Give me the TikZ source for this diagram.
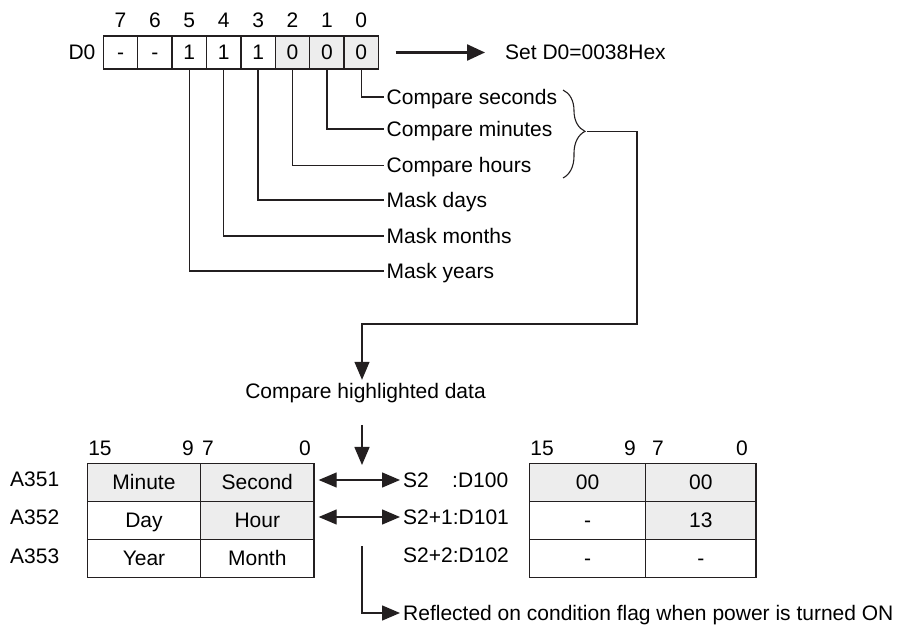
\documentclass[tikz,border=0pt]{standalone}
\usepackage{fontspec}
\setmainfont{Liberation Sans}
\usetikzlibrary{arrows.meta,decorations.pathreplacing}
\definecolor{ink}{HTML}{231F20}
\definecolor{shade}{HTML}{EDEDED}
\begin{document}
\begin{tikzpicture}[x=1pt,y=-1pt,
  every node/.style={font=\fontsize{21}{25}\selectfont, text=black, text height=15pt, text depth=0pt},
  line/.style={draw=ink, line width=1.4pt},
  arr/.style={line, -{Triangle[length=18pt,width=15pt]}},
  dbl/.style={line, {Triangle[length=18pt,width=15pt]}-{Triangle[length=18pt,width=15pt]}},
  regcell/.style={draw=ink, line width=1.4pt, minimum width=34.4pt, minimum height=33pt, inner sep=0pt},
  hl/.style={fill=shade},
  tcell/.style={draw=ink, line width=1.4pt, minimum height=38pt, inner sep=0pt},
  lbl/.style={anchor=west, inner xsep=3pt, inner ysep=0pt},
  plain/.style={inner sep=0pt},
]
\useasboundingbox (0,0) rectangle (906,628);

% ---------- register D0 ----------
\node[plain] (d0) at (82,52.5) {D0};
\node[regcell] (c7) at (120.5,52.5) {-};
\node[regcell] (c6) at (154.9,52.5) {-};
\node[regcell] (c5) at (189.3,52.5) {1};
\node[regcell] (c4) at (223.7,52.5) {1};
\node[regcell] (c3) at (258.1,52.5) {1};
\node[regcell,hl] (c2) at (292.5,52.5) {0};
\node[regcell,hl] (c1) at (326.9,52.5) {0};
\node[regcell,hl] (c0) at (361.3,52.5) {0};

\foreach \i in {0,...,7}{
  \node[plain] (n\i) at (c\i |- 0,20) {\i};
}

% Set arrow
\node[anchor=west, inner sep=0pt] (set) at (505,52.5) {Set D0=0038Hex};
\draw[line, line width=2.4pt, -{Triangle[length=18pt,width=16pt]}, shorten <=16.5pt, shorten >=20pt] (c0.east) -- (set.west);

% ---------- bit labels ----------
\node[lbl] (ls) at (383.5,97) {Compare seconds};
\node[lbl] (lm) at (383.5,129) {Compare minutes};
\node[lbl] (lh) at (383.5,165.5) {Compare hours};
\node[lbl] (ld) at (383.5,200) {Mask days};
\node[lbl] (lmo) at (383.5,236) {Mask months};
\node[lbl] (ly) at (383.5,271) {Mask years};

\draw[line] (c0.south) |- (ls.west);
\draw[line] (c1.south) |- (lm.west);
\draw[line] (c2.south) |- (lh.west);
\draw[line] (c3.south) |- (ld.west);
\draw[line] (c4.south) |- (lmo.west);
\draw[line] (c5.south) |- (ly.west);

% brace
\draw[draw=ink, line width=1.1pt, decorate, decoration={brace, amplitude=22pt, aspect=0.47}] (563,90) -- (563,178);
\coordinate (bt) at (587,131.5);
\coordinate (k1) at (637,131.5);
\coordinate (k2) at (362,324);

\node[inner xsep=0pt, inner ysep=3.5pt] (cmp) at (365.5,391) {Compare highlighted data};
\draw[arr] (bt) -- (k1) |- (k2) -- (k2 |- cmp.north);

\coordinate (k3) at (362,425);
\coordinate (k4) at (362,465);
\draw[arr] (k3) -- (k4);

% ---------- left table ----------
\node[tcell,hl,minimum width=113.4pt] (L11) at (144,482.3) {Minute};
\node[tcell,hl,minimum width=113.4pt] (L12) at (257.3,482.3) {Second};
\node[tcell,minimum width=113.4pt] (L21) at (144,520.3) {Day};
\node[tcell,hl,minimum width=113.4pt] (L22) at (257.3,520.3) {Hour};
\node[tcell,minimum width=113.4pt] (L31) at (144,558.3) {Year};
\node[tcell,minimum width=113.4pt] (L32) at (257.3,558.3) {Month};

\node[plain] (lh15) at (100,448) {15};
\node[plain] (lh9) at (188,448) {9};
\node[plain] (lh7) at (208,448) {7};
\node[plain] (lh0) at (305,448) {0};

\node[plain, anchor=west] (a1) at (10,479.5) {A351};
\node[plain, anchor=west] (a2) at (10,517.5) {A352};
\node[plain, anchor=west] (a3) at (10,555.8) {A353};

% ---------- S2 labels ----------
\node[lbl] (s1) at (400,480) {S2~~~~:D100};
\node[lbl] (s2) at (400,517) {S2+1:D101};
\node[lbl] (s3) at (400,555) {S2+2:D102};

\draw[dbl, shorten <=4pt] (L12.east |- s1.west) -- (s1.west);
\draw[dbl, shorten <=4pt] (L22.east |- s2.west) -- (s2.west);

% ---------- right table ----------
\node[tcell,hl,minimum width=116.4pt] (R11) at (587.5,482.3) {00};
\node[tcell,hl,minimum width=110.3pt] (R12) at (700.85,482.3) {00};
\node[tcell,minimum width=116.4pt] (R21) at (587.5,520.3) {-};
\node[tcell,hl,minimum width=110.3pt] (R22) at (700.85,520.3) {13};
\node[tcell,minimum width=116.4pt] (R31) at (587.5,558.3) {-};
\node[tcell,minimum width=110.3pt] (R32) at (700.85,558.3) {-};

\node[plain] (rh15) at (542,448) {15};
\node[plain] (rh9) at (630,448) {9};
\node[plain] (rh7) at (658,448) {7};
\node[plain] (rh0) at (742,448) {0};

% ---------- reflected ----------
\node[lbl] (rf) at (400,613) {Reflected on condition flag when power is turned ON};
\coordinate (k5) at (362,546);
\draw[arr] (k5) |- (rf.west);
\end{tikzpicture}
\end{document}
